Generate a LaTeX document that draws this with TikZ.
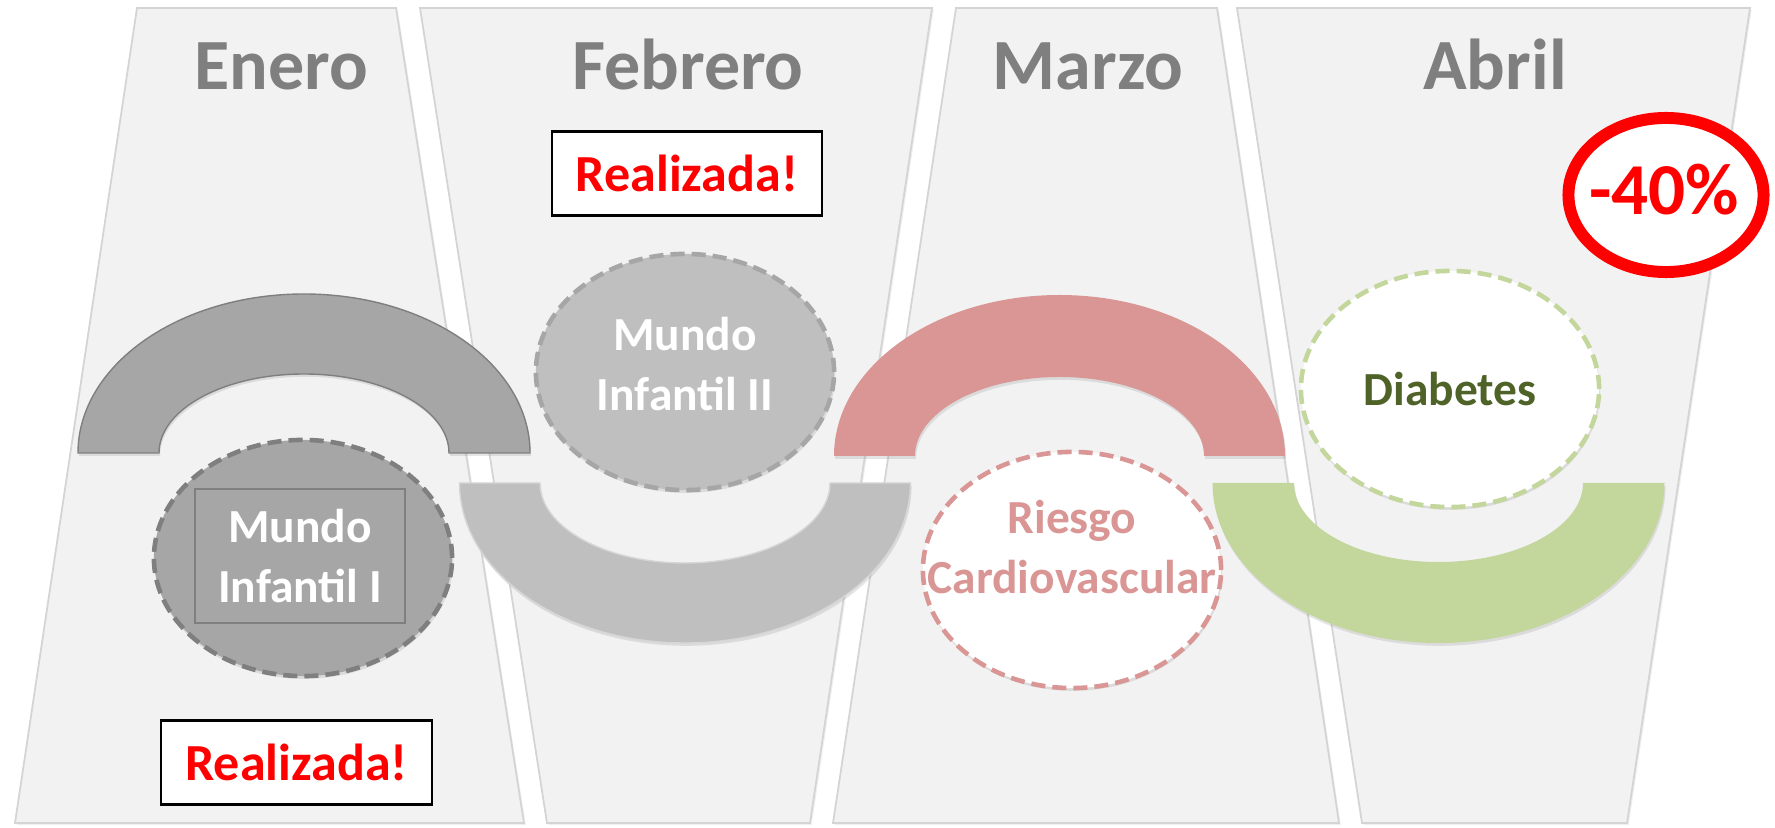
\documentclass[tikz,border=0pt]{standalone}
\usepackage{fontspec}
\setmainfont{Carlito}
\usepackage{tikz}
\usetikzlibrary{shapes.geometric}
\usetikzlibrary{shadows}

\definecolor{panelFill}{HTML}{F2F2F2}
\definecolor{panelLine}{HTML}{D4D4D4}
\definecolor{titleGray}{HTML}{7F7F7F}
\definecolor{eneroGray}{HTML}{A6A6A6}
\definecolor{febGray}{HTML}{BFBFBF}
\definecolor{febLine}{HTML}{D6D6D6}
\definecolor{marzoRed}{HTML}{D99694}
\definecolor{abrilGreen}{HTML}{C3D69B}
\definecolor{diabText}{HTML}{4F6228}

\tikzset{
  panel/.style={fill=panelFill, draw=panelLine, line width=0.5pt,
    drop shadow={shadow xshift=0.5pt, shadow yshift=-0.5pt, opacity=0.12}},
  arch/.style={drop shadow={shadow xshift=0.3pt, shadow yshift=-0.8pt, opacity=0.2}},
  bubble/.style={ellipse, line width=1.3pt, dash pattern=on 4pt off 2pt,
    minimum width=2.98cm, minimum height=2.36cm, inner sep=0pt,
    drop shadow={shadow xshift=0.3pt, shadow yshift=-0.8pt, opacity=0.2}},
  month/.style={text=titleGray, font=\bfseries\fontsize{20.5}{24}\selectfont, anchor=base},
  donebox/.style={draw=black, line width=0.6pt, fill=white, text=red,
    minimum width=2.70cm, minimum height=0.84cm, inner sep=0pt,
    font=\bfseries\fontsize{14.8}{18}\selectfont},
  bubbletext/.style={font=\bfseries\fontsize{13.5}{16.8}\selectfont, align=center, inner sep=0pt},
}

\begin{document}
\begin{tikzpicture}[x=0.01cm, y=-0.01cm]
  \useasboundingbox (0,0) rectangle (1775,828);
  \fill[white] (0,0) rectangle (1775,828);

  % month panels
  \draw[panel] (137,8) -- (396,8) -- (524,823) -- (15,823) -- cycle;
  \draw[panel] (420,8) -- (932,8) -- (810,823) -- (547,823) -- cycle;
  \draw[panel] (956,8) -- (1217,8) -- (1339,823) -- (833,823) -- cycle;
  \draw[panel] (1237,8) -- (1750,8) -- (1627,823) -- (1362,823) -- cycle;

  \node[month] (enero) at (281,90) {Enero};
  \node[month] (febrero) at (688,90) {Febrero};
  \node[month] (marzo) at (1088,90) {Marzo};
  \node[month] (abril) at (1495,90) {Abril};

  % block arcs
  \draw[fill=eneroGray, draw=titleGray, line width=0.4pt, arch] (78,453)
    arc[start angle=180, end angle=360, x radius=226, y radius=159] -- (449,453)
    arc[start angle=0, end angle=-180, x radius=145, y radius=79] -- cycle;
  \draw[fill=febGray, draw=febLine, line width=0.4pt, arch] (459.5,483)
    arc[start angle=180, end angle=0, x radius=225.5, y radius=160] -- (830,483)
    arc[start angle=0, end angle=180, x radius=145, y radius=80] -- cycle;
  \fill[marzoRed, arch] (834,456)
    arc[start angle=180, end angle=360, x radius=225.5, y radius=161] -- (1204,456)
    arc[start angle=0, end angle=-180, x radius=144.5, y radius=79] -- cycle;
  \fill[abrilGreen, arch] (1212.5,483)
    arc[start angle=180, end angle=0, x radius=226, y radius=160] -- (1583,483)
    arc[start angle=0, end angle=180, x radius=144.5, y radius=79] -- cycle;

  % topics
  \node[bubble, fill=eneroGray, draw=titleGray] (infantil1) at (303,558) {};
  \node[draw=titleGray, line width=0.5pt, minimum width=2.10cm, minimum height=1.34cm,
    bubbletext, text=white] (infantil1txt) at (300,556) {Mundo\\Infantil I};

  \node[bubble, fill=febGray, draw=eneroGray] (infantil2) at (685,372) {};
  \node[bubbletext, text=white] (infantil2txt) at (685,364) {Mundo\\Infantil II};

  \node[bubble, fill=white, draw=marzoRed] (riesgo) at (1072,570) {};
  \node[bubbletext, text=marzoRed] (riesgotxt) at (1072,547) {Riesgo\\Cardiovascular};

  \node[bubble, fill=white, draw=abrilGreen] (diabetes) at (1450,389) {};
  \node[bubbletext, text=diabText, anchor=base] (diabetestxt) at (1450,406) {Diabetes};

  % done / goal marks
  \node[donebox] (hecho1) at (296.5,762.5) {Realizada!};
  \node[donebox] (hecho2) at (687,173.5) {Realizada!};

  \node[ellipse, fill=white, draw=red, line width=3.4pt, minimum width=1.95cm,
    minimum height=1.54cm, drop shadow={shadow xshift=0.3pt, shadow yshift=-0.8pt, opacity=0.2}] (meta) at (1666,195) {};
  \node[text=red, font=\bfseries\fontsize{20.8}{24}\selectfont, anchor=base] (metatxt) at (1664,215) {-40\%};
\end{tikzpicture}
\end{document}
